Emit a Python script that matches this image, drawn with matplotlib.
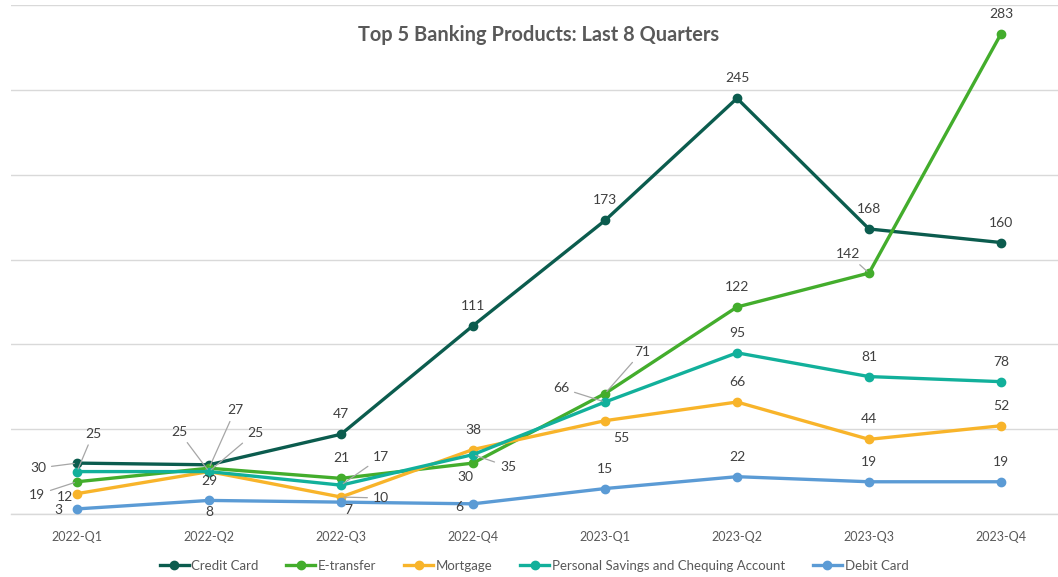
import matplotlib
matplotlib.use("Agg")
import matplotlib.pyplot as plt
from matplotlib.lines import Line2D

quarters = ["2022-Q1", "2022-Q2", "2022-Q3", "2022-Q4", "2023-Q1", "2023-Q2", "2023-Q3", "2023-Q4"]
credit_card = [30, 29, 47, 111, 173, 245, 168, 160]
e_transfer = [19, 27, 21, 30, 71, 122, 142, 283]
mortgage = [12, 25, 10, 38, 55, 66, 44, 52]
savings_chequing = [25, 25, 17, 35, 66, 95, 81, 78]
debit_card = [3, 8, 7, 6, 15, 22, 19, 19]

series_names = ["Credit Card", "E-transfer", "Mortgage",
                "Personal Savings and Chequing Account", "Debit Card"]
series_values = [credit_card, e_transfer, mortgage, savings_chequing, debit_card]
colors = ["#0B5C4E", "#43AD2C", "#F8B42A", "#12B09B", "#5B9BD5"]

# label offsets in pixels (dx, dy: +dy = upward), and whether a leader line is drawn
A = (0, 20, False)
label_pos = [
    # Credit Card
    [(-39, -5, True), (0, -16, False), A, A, A, A, A, A],
    # E-transfer
    [(-40, -13, True), (26, 58, True), A, (-8, -14, False), (37, 42, True), A, (-21, 19, True), A],
    # Mortgage
    [(-12, -3, False), (-30, 40, True), (40, -1, True), A, (16, -17, False), A, A, A],
    # Savings & Chequing
    [(16, 38, True), (46, 39, True), (40, 28, True), (35, -12, True), (-44, 14, True), A, A, A],
    # Debit Card
    [(-19, -1, False), (0, -12, False), (7, -8, False), (-14, -3, False), A, A, A, A],
]

fig = plt.figure(figsize=(10.58, 5.77), dpi=100)
W, H = 1058, 577
x0, x1 = 11, 1058
y0, y1 = 514, 5
ax = fig.add_axes([x0 / W, 1 - y0 / H, (x1 - x0) / W, (y0 - y1) / H])

font = "Lato"
xs = list(range(len(quarters)))
for name, vals, c in zip(series_names, series_values, colors):
    ax.plot(xs, vals, color=c, lw=2.4, marker="o", ms=6, solid_capstyle="round",
            solid_joinstyle="round", zorder=3)

for vals, c, poses in zip(series_values, colors, label_pos):
    for i, (v, (dx, dy, leader)) in enumerate(zip(vals, poses)):
        kw = {}
        if leader:
            kw["arrowprops"] = dict(arrowstyle="-", color="#A6A6A6", lw=0.9,
                                    shrinkA=2, shrinkB=2)
        ax.annotate(str(v), xy=(i, v), xytext=(dx, dy), textcoords="offset pixels",
                    ha="center", va="center", fontsize=10, color="#404040",
                    family=font, zorder=5, **kw)

step = (1001 - 77) / 7
ax.set_xlim(-0.5, (x1 - 77) / step)
ax.set_ylim(0, 300)
ax.set_yticks([0, 50, 100, 150, 200, 250, 300])
ax.yaxis.grid(True, color="#D9D9D9", lw=1)
ax.set_axisbelow(True)
ax.tick_params(axis="y", left=False, labelleft=False)
ax.tick_params(axis="x", bottom=False, pad=9, labelsize=9, labelcolor="#595959")
ax.set_xticks(xs)
ax.set_xticklabels(quarters, family=font)
for s in ["top", "left", "right"]:
    ax.spines[s].set_visible(False)
ax.spines["bottom"].set_color("#D9D9D9")
ax.spines["bottom"].set_linewidth(1)

fig.text(539 / W, 1 - 35 / H, "Top 5 Banking Products: Last 8 Quarters", ha="center",
         va="center", fontsize=14.4, fontweight="bold", color="#595959", family=font)

handles = [Line2D([0], [0], color=c, lw=2.4, marker="o", ms=6) for c in colors]
leg = fig.legend(handles, series_names, loc="center", bbox_to_anchor=(534 / W, 1 - 566 / H),
                 ncol=5, frameon=False, prop={"family": font, "size": 9.5},
                 handlelength=2.2, handletextpad=0.2, columnspacing=2.1)
for t in leg.get_texts():
    t.set_color("#595959")

fig.savefig("out.png", dpi=100)
